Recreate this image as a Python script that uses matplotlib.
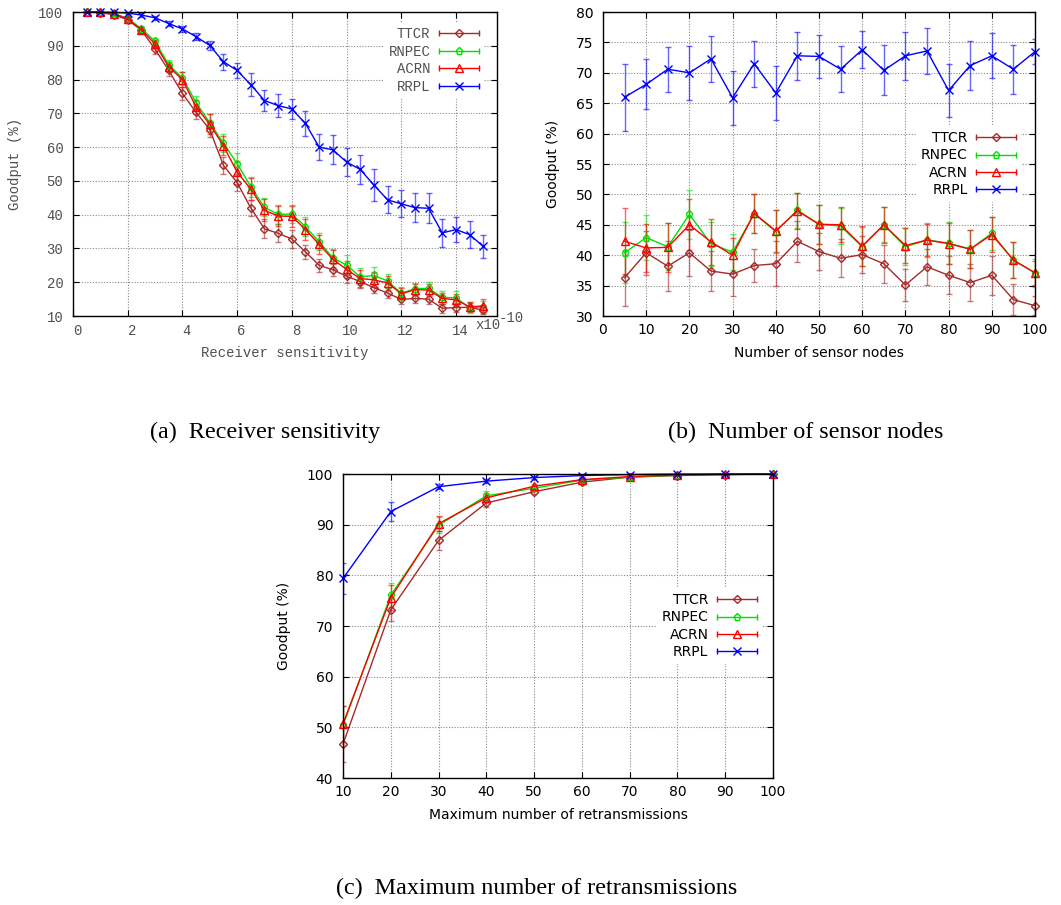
import numpy as np
import matplotlib
matplotlib.use("Agg")
import matplotlib.pyplot as plt
import matplotlib.transforms as mtransforms
from matplotlib.lines import Line2D
from matplotlib.legend_handler import HandlerBase

# ----------------
# data
# ----------------
names = ["TTCR", "RNPEC", "ACRN", "RRPL"]

# (a) receiver sensitivity (x10^-10)
sens_x = [0.5, 1.0, 1.5, 2.0, 2.5, 3.0, 3.5, 4.0, 4.5, 5.0, 5.5, 6.0, 6.5, 7.0, 7.5,
          8.0, 8.5, 9.0, 9.5, 10.0, 10.5, 11.0, 11.5, 12.0, 12.5, 13.0, 13.5, 14.0, 14.5, 15.0]
sens_ttcr = [100, 99.8, 99.2, 97.7, 94.6, 89.0, 82.7, 75.9, 70.3, 65.2, 54.6, 49.5, 42.0, 35.8, 34.5,
             32.8, 29.0, 25.0, 23.7, 21.8, 20.2, 18.4, 16.8, 14.9, 15.2, 15.0, 12.3, 12.5, 12.6, 11.7]
sens_ttcr_err = [0.1, 0.2, 0.4, 0.6, 0.9, 1.3, 1.6, 1.8, 2.0, 2.3, 2.5, 2.6, 2.4, 2.8, 2.7,
                 2.6, 2.0, 2.0, 1.8, 1.9, 1.8, 1.6, 1.5, 1.4, 1.4, 1.5, 1.3, 1.3, 1.2, 1.1]
sens_rnpec = [100, 99.9, 99.6, 98.1, 95.1, 91.3, 84.4, 80.5, 73.2, 67.2, 61.2, 55.1, 48.3, 42.2, 40.1,
              40.2, 36.4, 32.0, 27.2, 25.1, 21.6, 22.0, 20.4, 16.7, 18.1, 18.2, 15.5, 15.4, 12.5, 12.7]
sens_rnpec_err = [0.1, 0.1, 0.3, 0.5, 0.8, 1.0, 1.3, 1.8, 2.0, 2.5, 2.6, 3.2, 3.0, 2.7, 2.8,
                  2.8, 2.8, 2.6, 2.6, 2.9, 2.5, 2.4, 2.1, 1.9, 1.8, 1.9, 1.8, 2.0, 1.6, 1.8]
sens_acrn = [100, 99.9, 99.5, 97.9, 94.8, 90.5, 83.8, 80.0, 71.9, 66.8, 60.4, 52.6, 47.6, 41.3, 39.6,
             39.5, 35.6, 31.2, 26.8, 23.8, 21.1, 20.7, 19.8, 16.6, 17.8, 17.7, 15.2, 14.8, 12.7, 13.0]
sens_acrn_err = [0.1, 0.1, 0.3, 0.6, 0.9, 1.2, 1.5, 2.2, 2.2, 3.0, 2.8, 3.4, 3.2, 3.2, 3.0,
                 3.1, 3.0, 2.8, 2.8, 2.6, 2.6, 2.2, 2.1, 1.7, 1.6, 1.8, 1.6, 1.8, 1.6, 1.9]
sens_rrpl = [100, 100, 99.9, 99.7, 99.1, 98.3, 96.6, 95.0, 92.7, 90.1, 85.3, 82.7, 78.5, 73.8, 72.3,
             71.3, 67.0, 60.0, 59.2, 55.6, 53.4, 48.8, 44.4, 43.2, 42.1, 41.9, 34.6, 35.6, 34.1, 30.6]
sens_rrpl_err = [0.1, 0.1, 0.2, 0.3, 0.5, 0.6, 0.6, 0.8, 1.1, 1.3, 2.4, 2.3, 3.4, 3.2, 3.3,
                 3.1, 3.8, 3.8, 4.3, 4.0, 4.2, 4.6, 4.0, 4.0, 4.2, 4.4, 4.1, 3.8, 4.0, 3.5]

# (b) number of sensor nodes
nodes_x = [5, 10, 15, 20, 25, 30, 35, 40, 45, 50, 55, 60, 65, 70, 75, 80, 85, 90, 95, 100]
nodes_ttcr = [36.3, 40.4, 38.2, 40.4, 37.4, 36.9, 38.3, 38.6, 42.3, 40.6,
              39.5, 40.1, 38.6, 35.1, 38.1, 36.7, 35.5, 36.7, 32.7, 31.7]
nodes_ttcr_err = [4.6, 3.6, 4.1, 3.8, 3.3, 3.6, 2.7, 3.7, 3.4, 3.0,
                  3.1, 3.0, 3.1, 2.6, 3.0, 3.1, 3.0, 3.2, 2.6, 1.6]
nodes_rnpec = [40.4, 42.9, 41.4, 46.7, 41.9, 40.5, 46.8, 43.9, 47.4, 45.1,
               44.8, 41.4, 45.0, 41.4, 42.5, 42.0, 41.0, 43.6, 39.2, 37.1]
nodes_rnpec_err = [5.0, 3.7, 3.9, 4.0, 3.6, 3.0, 3.2, 3.6, 2.9, 3.2,
                   2.9, 3.2, 2.9, 3.0, 2.8, 3.4, 3.1, 2.7, 3.0, 2.3]
nodes_acrn = [42.3, 41.2, 41.3, 45.0, 42.2, 40.0, 46.9, 44.0, 47.3, 45.1,
              45.0, 41.5, 45.0, 41.6, 42.5, 41.9, 41.0, 43.4, 39.2, 37.1]
nodes_acrn_err = [5.4, 3.9, 4.0, 4.2, 3.8, 2.9, 3.2, 3.5, 3.0, 3.2,
                  2.9, 3.3, 3.0, 2.9, 2.7, 3.4, 3.1, 2.9, 3.0, 2.0]
nodes_rrpl = [66.0, 68.1, 70.6, 70.0, 72.3, 65.9, 71.5, 66.7, 72.8, 72.7,
              70.6, 73.8, 70.4, 72.8, 73.6, 67.1, 71.2, 72.8, 70.6, 73.5]
nodes_rrpl_err = [5.5, 4.1, 3.7, 4.4, 3.8, 4.4, 3.8, 4.5, 3.9, 3.5,
                  3.8, 3.0, 4.1, 3.9, 3.8, 4.3, 4.0, 3.7, 4.0, 2.0]

# (c) maximum number of retransmissions
retx_x = [10, 20, 30, 40, 50, 60, 70, 80, 90, 100]
retx_ttcr = [46.7, 73.2, 86.9, 94.3, 96.5, 98.4, 99.4, 99.7, 99.9, 100.0]
retx_ttcr_err = [3.5, 2.3, 1.8, 0.8, 0.4, 0.3, 0.2, 0.1, 0.1, 0.0]
retx_rnpec = [50.4, 76.1, 89.9, 95.7, 97.2, 98.8, 99.4, 99.8, 99.9, 100.0]
retx_rnpec_err = [3.8, 2.4, 1.6, 0.9, 0.5, 0.3, 0.2, 0.1, 0.1, 0.0]
retx_acrn = [50.7, 75.6, 90.2, 95.3, 97.6, 98.9, 99.5, 99.8, 100.0, 100.0]
retx_acrn_err = [3.6, 2.5, 1.5, 0.9, 0.5, 0.3, 0.2, 0.1, 0.0, 0.0]
retx_rrpl = [79.4, 92.6, 97.5, 98.6, 99.3, 99.7, 99.9, 100.0, 100.0, 100.0]
retx_rrpl_err = [3.0, 1.9, 0.5, 0.4, 0.3, 0.2, 0.1, 0.0, 0.0, 0.0]

# ----------------
# styles
# ----------------
colors = {"TTCR": "#a52a2a", "RNPEC": "#00e000", "ACRN": "#ff0000", "RRPL": "#0000ff"}
markers = {"TTCR": "D", "RNPEC": "p", "ACRN": "^", "RRPL": "x"}
msizes = {"TTCR": 4.2, "RNPEC": 5.2, "ACRN": 5.2, "RRPL": 6.0}


class GnuKey(HandlerBase):
    # gnuplot-like key sample: line with end ticks and a marker in the middle
    def create_artists(self, legend, orig_handle, xdescent, ydescent,
                       width, height, fontsize, trans):
        y = height / 2 - ydescent
        x0, x1 = -xdescent, width - xdescent
        col = orig_handle.get_color()
        line = Line2D([x0, x1], [y, y], color=col, lw=1.0)
        caps = Line2D([x0, x1], [y, y], ls="none", marker="|", ms=4.5, mew=1.0, color=col)
        mk = Line2D([(x0 + x1) / 2], [y], ls="none", marker=orig_handle.get_marker(),
                    ms=orig_handle.get_markersize(), mfc="none", mec=col, mew=1.0)
        for a in (line, caps, mk):
            a.set_transform(trans)
        return [line, caps, mk]


def draw_panel(ax, x, series, text_kw, legend_anchor, grid_col):
    handles = []
    for name, (y, err) in zip(names, series):
        c = colors[name]
        cont = ax.errorbar(x, y, yerr=err, color=c, lw=1.0, marker=markers[name],
                           ms=msizes[name], mfc="none", mec=c, mew=1.0,
                           elinewidth=1.0, capsize=2.3, capthick=1.0, ecolor=c)
        for bar in cont[2]:
            bar.set_alpha(0.6)
        for cap in cont[1]:
            cap.set_alpha(0.6)
        cont[0].set_clip_on(False)
        handles.append(cont[0])
    ax.grid(True, color=grid_col, linestyle=(0, (1, 1.5)), lw=0.8)
    ax.set_axisbelow(True)
    ax.tick_params(direction="in", length=4, top=True, right=True, width=0.8)
    for s in ax.spines.values():
        s.set_linewidth(1.0)
    leg = ax.legend(handles, names, handler_map={Line2D: GnuKey()}, markerfirst=False,
                    loc="upper right", bbox_to_anchor=legend_anchor, borderaxespad=0,
                    borderpad=0.35, handlelength=2.9, handletextpad=0.6, labelspacing=0.25,
                    frameon=True, fancybox=False, framealpha=1.0, facecolor="white",
                    edgecolor="none", prop=text_kw)
    leg.set_zorder(5)
    return leg


fig = plt.figure(figsize=(10.61, 9.05), dpi=100)

mono = {"family": "Liberation Mono", "size": 10}
sans = {"family": "DejaVu Sans", "size": 10}
gray = "#505050"

# ---------- (a) ----------
ax_a = fig.add_axes([0.0688, 0.6508, 0.3996, 0.3359])
draw_panel(ax_a, sens_x,
           [(sens_ttcr, sens_ttcr_err), (sens_rnpec, sens_rnpec_err),
            (sens_acrn, sens_acrn_err), (sens_rrpl, sens_rrpl_err)],
           mono, (0.969, 0.966), "#8a8a8a")
ax_a.set_xlim(0, 15.5)
ax_a.set_ylim(10, 100)
ax_a.set_xticks([0, 2, 4, 6, 8, 10, 12, 14])
ax_a.set_yticks([10, 20, 30, 40, 50, 60, 70, 80, 90, 100])
ax_a.tick_params(axis="y", pad=7, labelcolor=gray)
ax_a.tick_params(axis="x", pad=6, labelcolor=gray)
for lab in ax_a.get_xticklabels() + ax_a.get_yticklabels():
    lab.set_fontfamily("Liberation Mono")
    lab.set_fontsize(10)
shift = mtransforms.ScaledTranslation(4 / 100, 0, fig.dpi_scale_trans)
for lab in ax_a.get_xticklabels():
    lab.set_transform(lab.get_transform() + shift)
for t in ax_a.get_legend().get_texts():
    t.set_color(gray)
ax_a.set_xlabel("Receiver sensitivity", color=gray, va="center", **mono)
ax_a.set_ylabel("Goodput (%)", color=gray, va="center", **mono)
ax_a.xaxis.set_label_coords(0.5, -0.122)
ax_a.yaxis.set_label_coords(-0.137, 0.5)
ax_a.text(0.979, -0.03, "x10", transform=ax_a.transAxes, ha="center", va="center",
          color=gray, **mono)
ax_a.text(1.035, -0.008, "-10", transform=ax_a.transAxes, ha="center", va="center",
          color=gray, **mono)

# ---------- (b) ----------
ax_b = fig.add_axes([0.5683, 0.6508, 0.4072, 0.3359])
draw_panel(ax_b, nodes_x,
           [(nodes_ttcr, nodes_ttcr_err), (nodes_rnpec, nodes_rnpec_err),
            (nodes_acrn, nodes_acrn_err), (nodes_rrpl, nodes_rrpl_err)],
           sans, (0.968, 0.625), "#8a8a8a")
ax_b.set_xlim(0, 100)
ax_b.set_ylim(30, 80)
ax_b.set_xticks([0, 10, 20, 30, 40, 50, 60, 70, 80, 90, 100])
ax_b.set_yticks([30, 35, 40, 45, 50, 55, 60, 65, 70, 75, 80])
ax_b.tick_params(axis="y", pad=7, labelsize=10)
ax_b.tick_params(axis="x", pad=5, labelsize=10)
ax_b.set_xlabel("Number of sensor nodes", va="center", **sans)
ax_b.set_ylabel("Goodput (%)", va="center", **sans)
ax_b.xaxis.set_label_coords(0.5, -0.122)
ax_b.yaxis.set_label_coords(-0.116, 0.5)

# ---------- (c) ----------
ax_c = fig.add_axes([0.3233, 0.1403, 0.4053, 0.3359])
draw_panel(ax_c, retx_x,
           [(retx_ttcr, retx_ttcr_err), (retx_rnpec, retx_rnpec_err),
            (retx_acrn, retx_acrn_err), (retx_rrpl, retx_rrpl_err)],
           sans, (0.974, 0.625), "#8a8a8a")
ax_c.set_xlim(10, 100)
ax_c.set_ylim(40, 100)
ax_c.set_xticks([10, 20, 30, 40, 50, 60, 70, 80, 90, 100])
ax_c.set_yticks([40, 50, 60, 70, 80, 90, 100])
ax_c.tick_params(axis="y", pad=7, labelsize=10)
ax_c.tick_params(axis="x", pad=5, labelsize=10)
ax_c.set_xlabel("Maximum number of retransmissions", va="center", **sans)
ax_c.set_ylabel("Goodput (%)", va="center", **sans)
ax_c.xaxis.set_label_coords(0.5, -0.122)
ax_c.yaxis.set_label_coords(-0.137, 0.5)

# ---------- captions ----------
cap_kw = dict(ha="center", va="center", family="Liberation Serif", size=17.4)
fig.text(0.250, 0.5227, "(a)  Receiver sensitivity", **cap_kw)
fig.text(0.759, 0.5227, "(b)  Number of sensor nodes", **cap_kw)
fig.text(0.5057, 0.018, "(c)  Maximum number of retransmissions", **cap_kw)

fig.savefig("out.png", dpi=100)
